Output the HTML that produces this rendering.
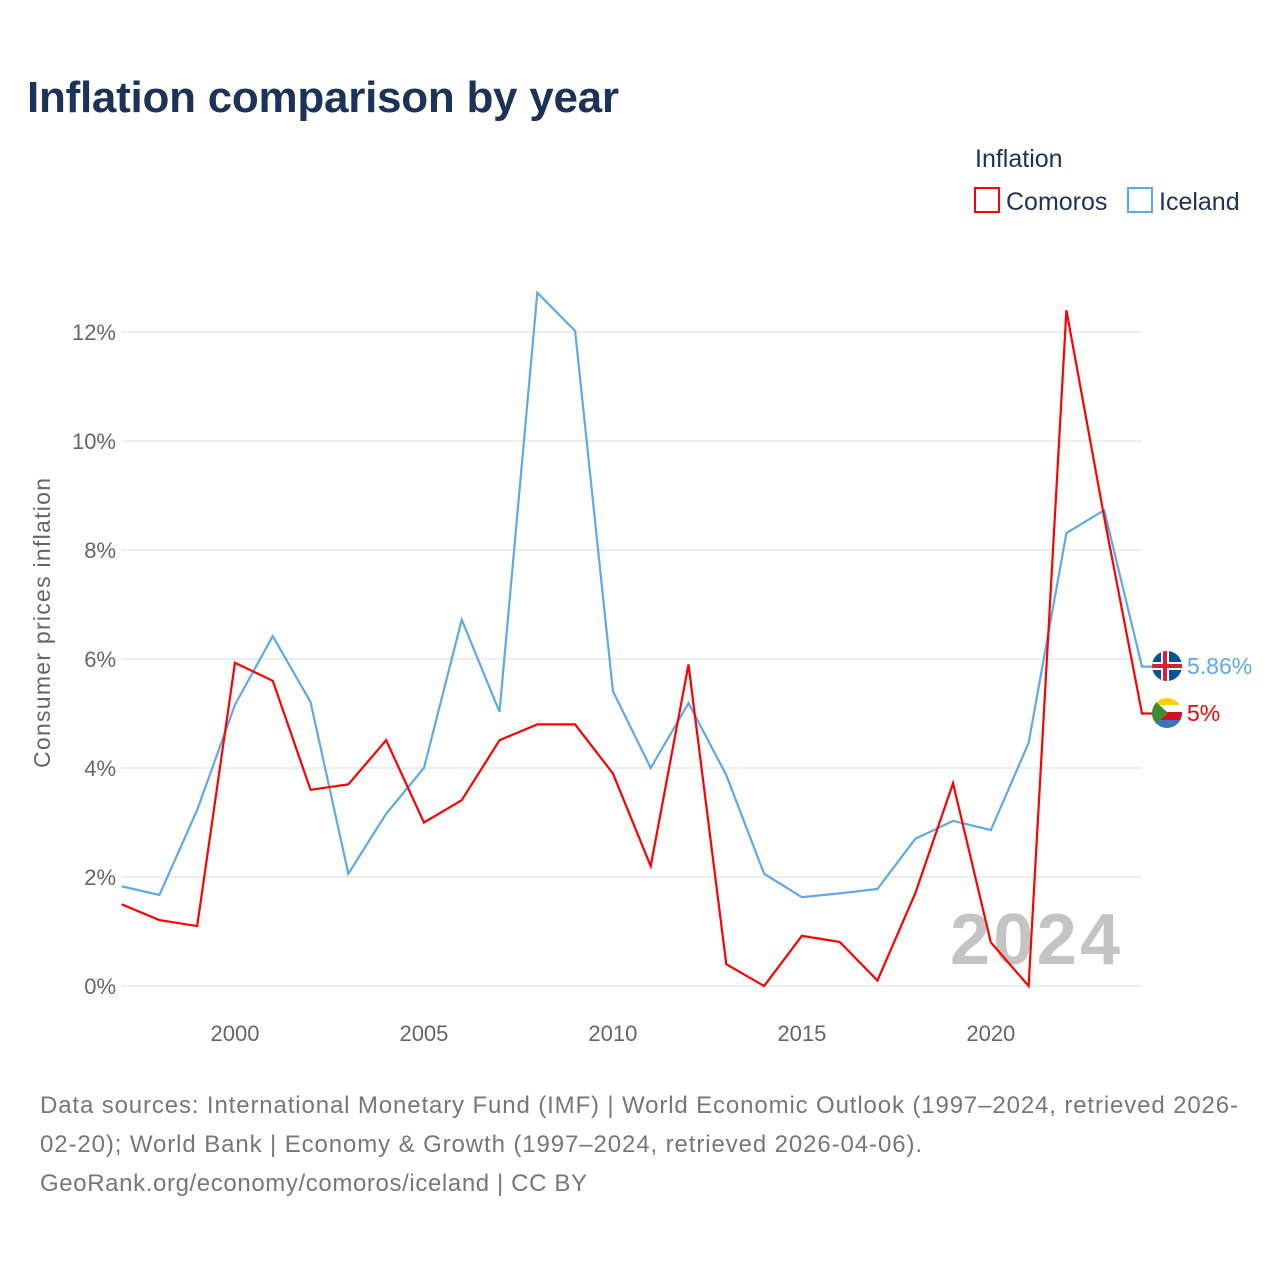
<!DOCTYPE html>
<html><head><meta charset="utf-8"><style>
body{margin:0;background:#fff;font-family:"Liberation Sans",sans-serif;}
svg text{font-family:"Liberation Sans",sans-serif;}
</style></head><body>
<svg id="chart" width="1280" height="1280" viewBox="0 0 1280 1280">
<text x="27" y="112" font-size="44" font-weight="bold" fill="#1b3358" textLength="592">Inflation comparison by year</text>
<g>
<text x="975" y="167" font-size="25" fill="#1b3358">Inflation</text>
<g><rect x="975" y="188" width="24" height="24" fill="none" stroke="#ff0000" stroke-width="2"/><text x="1006" y="210" font-size="25" fill="#1b3358">Comoros</text></g>
<g><rect x="1128" y="188" width="24" height="24" fill="none" stroke="#5ea9ec" stroke-width="2"/><text x="1159" y="210" font-size="25" fill="#1b3358">Iceland</text></g>
</g>
<g id="grid"></g>
<g id="yticks"></g>
<g id="xticks"></g>
<text transform="translate(50,623) rotate(-90)" text-anchor="middle" font-size="23" fill="#666" textLength="290">Consumer prices inflation</text>
<text x="1120" y="964" text-anchor="end" font-size="72" font-weight="bold" fill="#c4c4c4" textLength="170">2024</text>
<g id="series"></g>
<g>
<clipPath id="c1"><circle cx="1167" cy="666" r="15"/></clipPath>
<g clip-path="url(#c1)"><rect x="1152" y="651" width="30" height="30" fill="#02529c"/><rect x="1152" y="662" width="30" height="8" fill="#fff"/><rect x="1161" y="651" width="8" height="30" fill="#fff"/><rect x="1152" y="664" width="30" height="4" fill="#dc1e35"/><rect x="1163" y="651" width="4" height="30" fill="#dc1e35"/></g>
<text x="1187" y="674" font-size="23" fill="#5ea9ec">5.86%</text></g>
<g>
<clipPath id="c2"><circle cx="1167" cy="713" r="15"/></clipPath>
<g clip-path="url(#c2)"><rect x="1152" y="698" width="30" height="8" fill="#ffd100"/><rect x="1152" y="705" width="30" height="8" fill="#fff"/><rect x="1152" y="712" width="30" height="8" fill="#ce1126"/><rect x="1152" y="720" width="30" height="8" fill="#3a75c4"/><polygon points="1152,698 1168,713 1152,728" fill="#3d8e33"/></g>
<text x="1187" y="721" font-size="23" fill="#ff0000">5%</text></g>
<g font-size="24" fill="#777">
<text x="40" y="1113" textLength="1198">Data sources: International Monetary Fund (IMF) | World Economic Outlook (1997–2024, retrieved 2026-</text>
<text x="40" y="1152" textLength="882">02-20); World Bank | Economy &amp; Growth (1997–2024, retrieved 2026-04-06).</text>
<text x="40" y="1191" textLength="547">GeoRank.org/economy/comoros/iceland | CC BY</text>
</g>
</svg>
<script>
const years=[1997,1998,1999,2000,2001,2002,2003,2004,2005,2006,2007,2008,2009,2010,2011,2012,2013,2014,2015,2016,2017,2018,2019,2020,2021,2022,2023,2024];
const comoros=[1.5,1.21,1.1,5.93,5.6,3.6,3.7,4.51,3.0,3.41,4.51,4.8,4.8,3.9,2.2,5.9,0.4,0,0.92,0.81,0.1,1.7,3.72,0.8,0,12.4,8.6,5.0];
const iceland=[1.83,1.67,3.23,5.16,6.42,5.21,2.06,3.16,4.0,6.72,5.03,12.72,12.02,5.41,4.0,5.19,3.87,2.06,1.63,1.7,1.78,2.7,3.03,2.86,4.46,8.31,8.73,5.86];
const yTicks=[0,2,4,6,8,10,12];
const xTicks=[2000,2005,2010,2015,2020];
const NS="http://www.w3.org/2000/svg";
const x=v=>121.6+(v-1997)*(1142-121.6)/27;
const y=v=>986-v*54.5;
function mk(t,a,p){const e=document.createElementNS(NS,t);for(const k in a)e.setAttribute(k,a[k]);p.appendChild(e);return e;}
const grid=document.getElementById('grid'),yt=document.getElementById('yticks'),xt=document.getElementById('xticks'),ser=document.getElementById('series');
yTicks.forEach(v=>{
const l=mk('line',{x1:121,x2:1142,y1:y(v),y2:y(v),stroke:'#e8e8e8','stroke-width':1.5},grid);


const t=mk('text',{x:116,y:y(v)+8,'text-anchor':'end','font-size':22,fill:'#666'},yt);t.textContent=v+'%';


});
xTicks.forEach(v=>{
const t=mk('text',{x:x(v),y:1041,'text-anchor':'middle','font-size':22,fill:'#666'},xt);t.textContent=v;


});
function line(data,color,name){
const p=mk('polyline',{points:data.map((v,i)=>x(years[i])+','+y(v)).join(' ')+' '+(x(2024)+10)+','+y(data[data.length-1]),fill:'none',stroke:color,'stroke-width':2.2,'stroke-linejoin':'miter'},ser);


}
line(iceland,'#5ea9ec','iceland-line');
line(comoros,'#ff0000','comoros-line');
</script>
</body></html>
